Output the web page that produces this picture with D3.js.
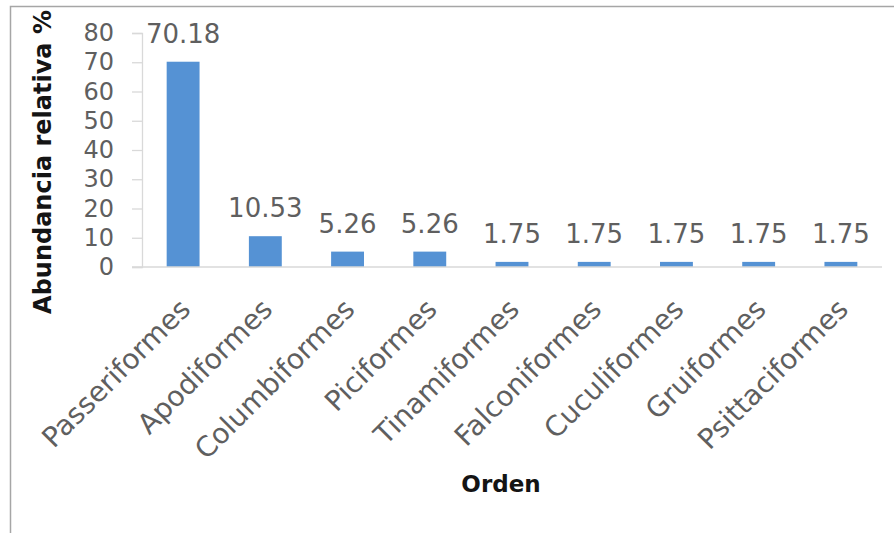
<!DOCTYPE html>
<html>
<head>
<meta charset="utf-8">
<script src="https://cdn.jsdelivr.net/npm/d3@7"></script>
<style>
  html, body { margin: 0; padding: 0; background: #ffffff; }
  svg { display: block; }
</style>
</head>
<body>
<div id="chart"></div>
<script>
// Relative abundance of bird orders
const categories = ["Passeriformes", "Apodiformes", "Columbiformes", "Piciformes",
  "Tinamiformes", "Falconiformes", "Cuculiformes", "Gruiformes", "Psittaciformes"];
const values = [70.18, 10.53, 5.26, 5.26, 1.75, 1.75, 1.75, 1.75, 1.75];
const yTicks = [0, 10, 20, 30, 40, 50, 60, 70, 80];
const yTitle = "Abundancia relativa %";
const xTitle = "Orden";

const W = 894, H = 533;
const svg = d3.select("#chart").append("svg")
  .attr("width", W).attr("height", H);

svg.append("rect").attr("width", W).attr("height", H).attr("fill", "#ffffff");

// outer chart frame (top and left edges visible)
svg.append("path")
  .attr("d", `M10.5,${H} L10.5,6.5 L${W},6.5`)
  .attr("fill", "none")
  .attr("stroke", "#a6a6a6")
  .attr("stroke-width", 1.5);

const plot = { left: 142, right: 882, top: 33, bottom: 267 };

const x = d3.scaleBand()
  .domain(categories)
  .range([plot.left, plot.right])
  .paddingInner(0.6)
  .paddingOuter(0.3);

const y = d3.scaleLinear()
  .domain([0, 80])
  .range([plot.bottom, plot.top]);

const font = "'DejaVu Sans', sans-serif";
const grey = "#5f5f5f";

// y axis
const yAxis = d3.axisLeft(y).tickValues(yTicks).tickSize(10).tickPadding(18)
  .tickFormat(d3.format("d"));
const gy = svg.append("g").attr("transform", `translate(${plot.left},0)`).call(yAxis);
gy.select(".domain").attr("stroke", "#d9d9d9").attr("stroke-width", 1.3);
gy.selectAll(".tick line").attr("stroke", "#d9d9d9").attr("stroke-width", 1.3);
gy.selectAll(".tick text")
  .attr("font-family", font).attr("font-size", 24).attr("fill", grey);

// bars
svg.append("g").selectAll("rect")
  .data(values)
  .join("rect")
  .attr("x", (d, i) => x(categories[i]))
  .attr("width", x.bandwidth())
  .attr("y", d => y(d))
  .attr("height", d => y(0) - y(d))
  .attr("fill", "#5592d4");

// category baseline
svg.append("line")
  .attr("x1", plot.left - 10).attr("x2", plot.right)
  .attr("y1", y(0)).attr("y2", y(0))
  .attr("stroke", "#d9d9d9").attr("stroke-width", 1.5);

// value labels
svg.append("g").selectAll("text")
  .data(values)
  .join("text")
  .attr("x", (d, i) => x(categories[i]) + x.bandwidth() / 2)
  .attr("y", d => y(d) - 19)
  .attr("text-anchor", "middle")
  .attr("font-family", font).attr("font-size", 26).attr("fill", grey)
  .text(d => d.toFixed(2));

// category labels, rotated
svg.append("g").selectAll("text")
  .data(categories)
  .join("text")
  .attr("transform", d => `translate(${x(d) + x.bandwidth() / 2 - 6},${plot.bottom + 29}) rotate(-45)`)
  .attr("dy", "0.75em")
  .attr("text-anchor", "end")
  .attr("font-family", font).attr("font-size", 28).attr("fill", grey)
  .text(d => d);

// axis titles
svg.append("text")
  .attr("transform", `translate(51,162) rotate(-90)`)
  .attr("text-anchor", "middle")
  .attr("font-family", font).attr("font-weight", "bold").attr("font-size", 24)
  .attr("fill", "#141414")
  .text(yTitle);

svg.append("text")
  .attr("x", 501).attr("y", 492)
  .attr("text-anchor", "middle")
  .attr("font-family", font).attr("font-weight", "bold").attr("font-size", 23)
  .attr("fill", "#141414")
  .text(xTitle);
</script>
</body>
</html>
